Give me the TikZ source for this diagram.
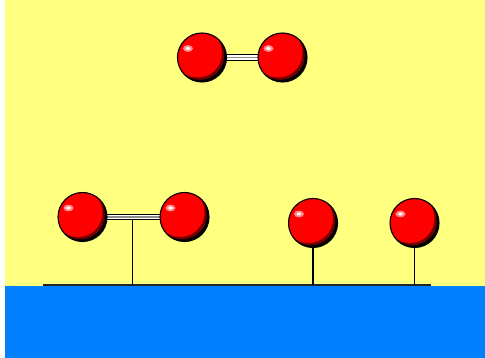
\documentclass[tikz,border=0pt]{standalone}
\usetikzlibrary{calc}
\definecolor{sky}{RGB}{255,255,128}
\definecolor{water}{RGB}{0,128,255}
\definecolor{atomred}{RGB}{255,0,0}
\pgfdeclarelayer{backdrop}
\pgfdeclarelayer{bonds}
\pgfsetlayers{backdrop,bonds,main}
\tikzset{
  atom/.style={circle, minimum size=49pt, inner sep=0pt, fill=black,
    path picture={
      \coordinate (c) at (path picture bounding box.center);
      \fill[atomred!45!black] ($(c)+(-2.2,-2.2)$) circle (24.5pt);
      \fill[atomred] ($(c)+(-4.5,-4.5)$) circle (24.5pt);
      \fill[atomred!45!white] ($(c)+(-14,-9)$) ellipse (5pt and 3.4pt);
      \fill[white] ($(c)+(-14,-9)$) ellipse (2.2pt and 1.4pt);
    },
    draw=black, line width=1.1pt},
  bondout/.style={line width=#1, black},
  bondin/.style={line width=#1, white},
  bondmid/.style={line width=#1, black!45},
  stick/.style={line width=1.3pt, black},
  groundline/.style={line width=1.6pt, black!85},
}
\begin{document}
\begin{tikzpicture}[x=1pt, y=-1pt]
  \useasboundingbox (0,0) rectangle (485,358);

  % free molecule with double bond
  \node[atom] (a1) at (202,57.5) {};
  \node[atom] (a2) at (282.5,57.5) {};

  % molecule held by one stick at the bond
  \node[atom] (b1) at (82.5,217) {};
  \node[atom] (b2) at (184.5,217) {};
  \coordinate (bm) at (132.5,217);
  \coordinate (bg) at (132.5,285);

  % two separate atoms on sticks
  \node[atom] (c1) at (313,223) {};
  \node[atom] (c2) at (414.5,223) {};
  \coordinate (cg1) at (313,285);
  \coordinate (cg2) at (414.5,285);

  % surface line ends
  \coordinate (gl) at (43,285);
  \coordinate (gr) at (431,285);

  \begin{pgfonlayer}{backdrop}
    % air above, water below
    \fill[white] (0,0) rectangle (485,358);
    \fill[sky] (5,0) rectangle (485,286);
    \fill[water] (5,286) rectangle (485,358);
    \draw[groundline] (gl) -- (gr);
  \end{pgfonlayer}

  \begin{pgfonlayer}{bonds}
    % sticks
    \draw[stick] (bm) -- (bg);
    \draw[stick] (c1.south) -- (cg1);
    \draw[stick] (c2.south) -- (cg2);
    % double bonds, run centre to centre beneath the atoms
    \draw[bondout=7.5pt] (a1.center) -- (a2.center);
    \draw[bondin=5pt] (a1.center) -- (a2.center);
    \draw[bondmid=1.6pt] (a1.center) -- (a2.center);
    \draw[bondout=6pt] (b1.center) -- (b2.center);
    \draw[bondin=3.6pt] (b1.center) -- (b2.center);
    \draw[bondmid=1.2pt] (b1.center) -- (b2.center);
  \end{pgfonlayer}
\end{tikzpicture}
\end{document}
